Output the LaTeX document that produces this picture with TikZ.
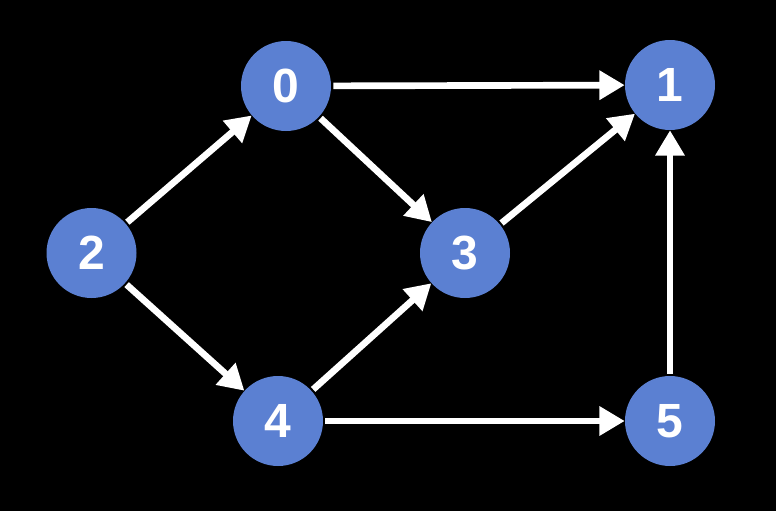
\documentclass[tikz,border=0pt]{standalone}
\usepackage{fontspec}
\setmainfont{Liberation Sans}
\usetikzlibrary{arrows.meta}
\definecolor{nodeblue}{HTML}{5B80D2}
\tikzset{
  vert/.style={circle, fill=nodeblue, minimum size=67.5pt, inner sep=0pt, text=white, font=\fontsize{36}{36}\selectfont\bfseries},
  edge/.style={draw=white, line width=5pt, -{Triangle[length=19pt,width=21pt]}, shorten <=1.5pt}
}
\begin{document}
\begin{tikzpicture}[x=0.75pt,y=-0.75pt]
\fill[black] (0,0) rectangle (776,511);
\useasboundingbox (0,0) rectangle (776,511);
\node[vert] (n0) at (286,86) {0};
\node[vert] (n1) at (670,85) {1};
\node[vert] (n2) at (91.5,253) {2};
\node[vert] (n3) at (465,253) {3};
\node[vert] (n4) at (278,421) {4};
\node[vert] (n5) at (670,421) {5};
\draw[edge] (n0) -- (n1);
\draw[edge] (n0) -- (n3);
\draw[edge] (n2) -- (n0);
\draw[edge] (n2) -- (n4);
\draw[edge] (n3) -- (n1);
\draw[edge] (n4) -- (n3);
\draw[edge] (n4) -- (n5);
\draw[edge] (n5) -- (n1);
\end{tikzpicture}
\end{document}
